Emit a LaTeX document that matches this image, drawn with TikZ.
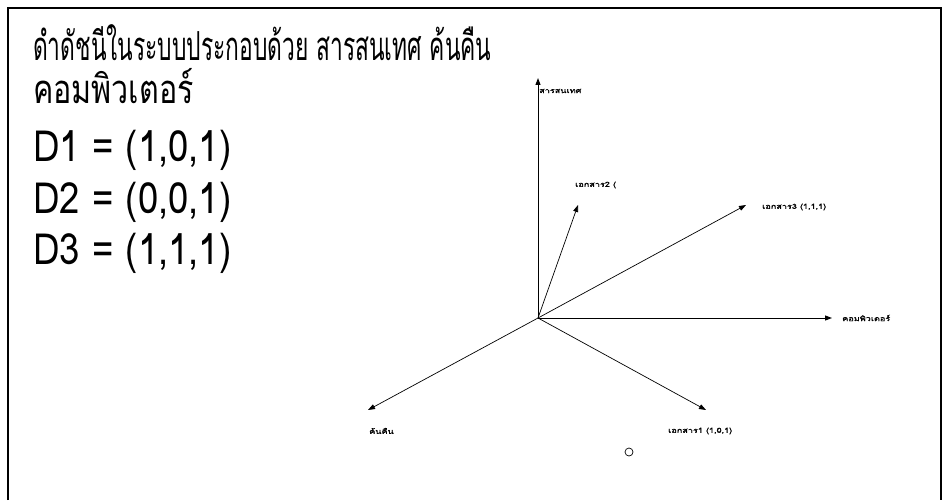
\documentclass[tikz,border=0pt]{standalone}
\usepackage{fontspec}
\usetikzlibrary{arrows.meta}
\newfontfamily\thaiwide[Script=Thai,FakeStretch=1.3,FakeBold=1.5]{Loma}
\newfontfamily\thaicond[Script=Thai,FakeStretch=0.57]{Loma}
\newfontfamily\thaicondb[Script=Thai,FakeStretch=0.76]{Loma}
\newfontfamily\eqfont[Script=Thai,FakeStretch=0.85]{Loma}
\begin{document}
\begin{tikzpicture}[x=1pt,y=-1pt,
  bigtext/.style={anchor=base west,inner sep=0pt,font=\thaicond\fontsize{40}{46}\selectfont},
  bigtextb/.style={anchor=base west,inner sep=0pt,font=\thaicondb\fontsize{40}{46}\selectfont},
  eqtext/.style={anchor=base west,inner sep=0pt,font=\eqfont\fontsize{43}{48}\selectfont},
  tiny/.style={inner sep=0pt,font=\thaiwide\fontsize{7}{8}\selectfont},
  vec/.style={line width=0.7pt,-{Triangle[length=7pt,width=5pt]}},
  axis/.style={line width=1pt,-{Triangle[length=7pt,width=5pt]}}]
\useasboundingbox (0,0) rectangle (949,500);
\draw[line width=1.2pt] (8,500) -- (8,8) -- (941,8) -- (941,500);
\node[bigtext] (t1) at (33,61) {ดำดัชนีในระบบประกอบด้วย สารสนเทศ ค้นคืน};
\node[bigtextb] (t2) at (33,103) {คอมพิวเตอร์};
\node[eqtext] (d1) at (33,161) {D1 = (1,0,1)};
\node[eqtext] (d2) at (33,213) {D2 = (0,0,1)};
\node[eqtext] (d3) at (33,264) {D3 = (1,1,1)};
\coordinate (o) at (538,318);
\coordinate (up) at (538,78);
\coordinate (rt) at (832,318);
\coordinate (dl) at (368,410);
\coordinate (v2) at (578,205);
\coordinate (v3) at (746,205);
\coordinate (v1) at (706,410);
\draw[axis] (o) -- (up);
\draw[axis] (o) -- (rt);
\draw[vec] (o) -- (dl);
\draw[vec] (o) -- (v2);
\draw[vec] (o) -- (v3);
\draw[vec] (o) -- (v1);
\node[tiny,anchor=west] (lup) at (539,91) {สารสนเทศ};
\node[tiny,anchor=west] (lrt) at (842,318) {คอมพิวเตอร์};
\node[tiny,anchor=west] (ldl) at (369,431) {ค้นคืน};
\node[tiny,anchor=west] (lv2) at (575,185) {เอกสาร2 (};
\node[tiny,anchor=west] (lv3) at (762,207) {เอกสาร3 (1,1,1)};
\node[tiny,anchor=west] (lv1) at (668,431) {เอกสาร1 (1,0,1)};
\node[draw,circle,minimum size=8pt,inner sep=0pt,line width=0.7pt] (c) at (629,452) {};
\end{tikzpicture}
\end{document}
